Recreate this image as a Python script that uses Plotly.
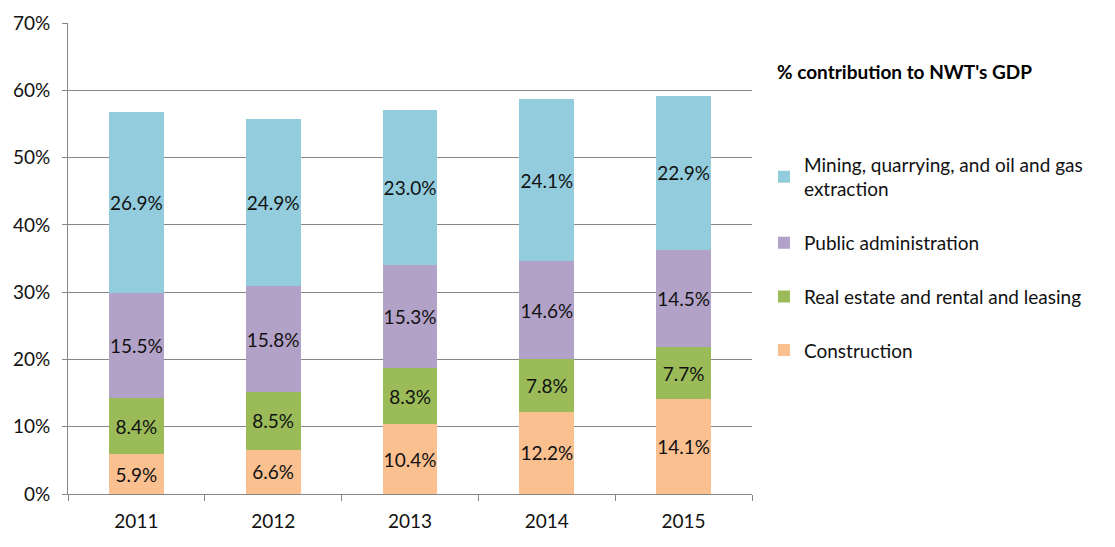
import plotly.graph_objects as go

years = ["2011", "2012", "2013", "2014", "2015"]
construction = [5.9, 6.6, 10.4, 12.2, 14.1]
real_estate = [8.4, 8.5, 8.3, 7.8, 7.7]
public_admin = [15.5, 15.8, 15.3, 14.6, 14.5]
mining = [26.9, 24.9, 23.0, 24.1, 22.9]

series = [
    ("Construction", construction, "#FAC090"),
    ("Real estate and rental and leasing", real_estate, "#9BBB59"),
    ("Public administration", public_admin, "#B3A2C7"),
    ("Mining, quarrying, and oil and gas<br>extraction", mining, "#93CDDD"),
]

FONT = "Lato, 'Open Sans', sans-serif"

fig = go.Figure()
n = len(series)
for i, (name, vals, color) in enumerate(series):
    fig.add_trace(go.Bar(
        x=years, y=[v / 100 for v in vals], name=name,
        marker=dict(color=color, line=dict(width=0)),
        text=[f"{v:.1f}%" for v in vals], textposition="inside",
        insidetextanchor="middle", textangle=0, constraintext="none",
        textfont=dict(size=19, color="#111111", family=FONT),
        legendgroup=f"g{i}", legendrank=n - i, width=0.4, hoverinfo="skip",
    ))

fig.update_layout(
    barmode="stack",
    width=1115, height=547,
    margin=dict(l=60, r=371, t=15, b=61),
    plot_bgcolor="white", paper_bgcolor="white",
    font=dict(family=FONT, size=19, color="#111111"),
    legend=dict(
        x=1.0175, xanchor="left", y=0.74, yanchor="top",
        traceorder="grouped", tracegroupgap=26,
        font=dict(size=19, family=FONT, color="#111111"),
        itemsizing="constant",
    ),
    annotations=[dict(
        text="<b>% contribution to NWT's GDP</b>", x=1.0336, xref="paper",
        y=0.898, yref="paper", xanchor="left", yanchor="middle",
        showarrow=False, font=dict(size=19, family=FONT, color="#000000"),
    )],
)
fig.update_yaxes(
    range=[0, 0.7], dtick=0.1, tickformat=".0%", automargin=False,
    showgrid=True, gridcolor="#868686", gridwidth=1,
    showline=True, linecolor="#868686", linewidth=1,
    ticks="outside", ticklen=5, tickcolor="#868686", ticklabelstandoff=8,
    tickfont=dict(size=19), zeroline=False,
)
fig.update_xaxes(
    type="category", showline=True, linecolor="#868686", linewidth=1,
    ticks="outside", ticklen=6, tickcolor="#868686", tickson="boundaries",
    ticklabelstandoff=10,
    tickfont=dict(size=19), showgrid=False, automargin=False,
)

fig.write_html("out.html")
